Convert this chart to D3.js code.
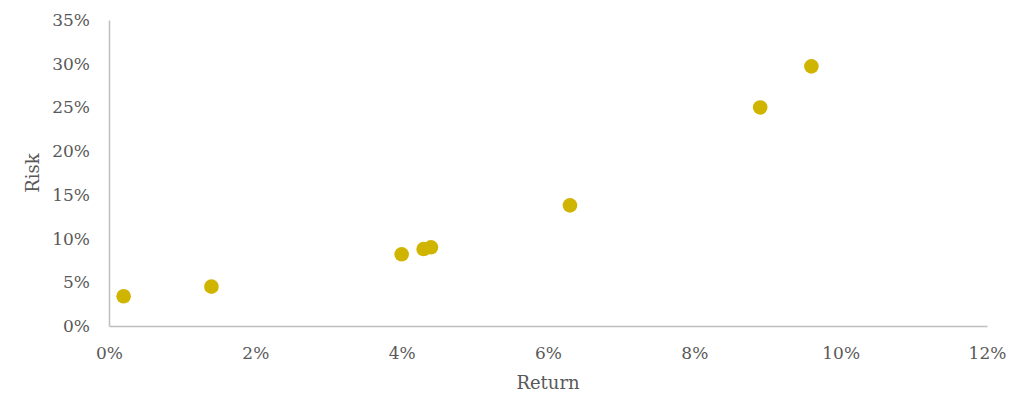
<!DOCTYPE html>
<html><head><meta charset="utf-8">
<script src="https://cdn.jsdelivr.net/npm/d3@7"></script>
<style>body{margin:0;background:#fff}svg{display:block}</style>
</head><body>
<svg id="c" width="1024" height="412"></svg>
<script>
const returns = [0.2, 1.4, 4.0, 4.3, 4.4, 6.3, 8.9, 9.6];
const risks   = [3.4, 4.5, 8.2, 8.8, 9.0, 13.8, 25.0, 29.7];
const xTicks = [0, 2, 4, 6, 8, 10, 12];
const yTicks = [0, 5, 10, 15, 20, 25, 30, 35];
const xTitle = "Return", yTitle = "Risk";

const svg = d3.select("#c");
const m = {l:109, r:987, t:20, b:326};
const x = d3.scaleLinear().domain([0,12]).range([m.l, m.r]);
const y = d3.scaleLinear().domain([0,35]).range([m.b, m.t]);
const font = "'DejaVu Serif', Georgia, serif";
const txt = "#595959", axc = "#BFBFBF";

const xa = svg.append("g").attr("transform",`translate(0,${m.b})`)
  .call(d3.axisBottom(x).tickValues(xTicks).tickSize(0).tickPadding(21).tickFormat(d=>d+"%"));
const ya = svg.append("g").attr("transform",`translate(${m.l},0)`)
  .call(d3.axisLeft(y).tickValues(yTicks).tickSize(0).tickPadding(19).tickFormat(d=>d+"%"));
[xa,ya].forEach(a=>{
  a.select(".domain").attr("stroke",axc).attr("stroke-width",1.5);
  a.selectAll("text").attr("fill",txt).style("font-family",font).style("font-size","17px");
});

svg.append("text").attr("x",(m.l+m.r)/2).attr("y",389).attr("text-anchor","middle")
  .attr("fill",txt).style("font-family",font).style("font-size","18px").text(xTitle);
svg.append("text").attr("transform",`translate(39,${(m.t+m.b)/2}) rotate(-90)`).attr("text-anchor","middle")
  .attr("fill",txt).style("font-family",font).style("font-size","18px").text(yTitle);

svg.append("g").selectAll("circle").data(returns.map((r,i)=>({r, k:risks[i]})))
  .join("circle").attr("cx",d=>x(d.r)).attr("cy",d=>y(d.k)).attr("r",7.3).attr("fill","#CFB400");
</script>
</body></html>
